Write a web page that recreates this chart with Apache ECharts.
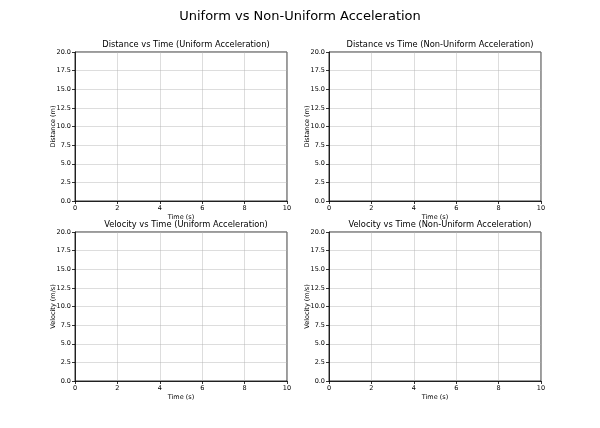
<!DOCTYPE html>
<html>
<head>
<meta charset="utf-8">
<script src="https://cdn.jsdelivr.net/npm/echarts@6/dist/echarts.min.js"></script>
<style>
  html, body { margin: 0; padding: 0; background: #fff; }
  #chart { width: 600px; height: 428px; }
</style>
</head>
<body>
<div id="chart"></div>
<script>
// the figure is an animation's first frame: axes are set up but nothing drawn yet
const timeValues = [];
const distanceUniform = [];
const distanceNonUniform = [];
const velocityUniform = [];
const velocityNonUniform = [];

const panelTitles = [
  'Distance vs Time (Uniform Acceleration)',
  'Distance vs Time (Non-Uniform Acceleration)',
  'Velocity vs Time (Uniform Acceleration)',
  'Velocity vs Time (Non-Uniform Acceleration)'
];
const yNames = ['Distance (m)', 'Distance (m)', 'Velocity (m/s)', 'Velocity (m/s)'];
const panelData = [distanceUniform, distanceNonUniform, velocityUniform, velocityNonUniform];

const FONT = 'DejaVu Sans';
const grids = [
  { left: 75, top: 52, width: 212, height: 149 },
  { left: 329, top: 52, width: 212, height: 149 },
  { left: 75, top: 232, width: 212, height: 149 },
  { left: 329, top: 232, width: 212, height: 149 }
];

const tickStyle = { show: true, inside: false, length: 3, lineStyle: { color: '#000', width: 0.8 } };
const splitStyle = { show: true, lineStyle: { color: '#b0b0b0', width: 0.8, opacity: 0.55 } };
const labelStyle = { fontFamily: FONT, fontSize: 6.5, color: '#000', margin: 4 };

const option = {
  animation: false,
  title: [{
    text: 'Uniform vs Non-Uniform Acceleration',
    left: 'center', top: 5,
    textStyle: { fontFamily: FONT, fontSize: 13, fontWeight: 'normal', color: '#000' }
  }].concat(grids.map((g, i) => ({
    text: panelTitles[i],
    left: g.left + g.width / 2, textAlign: 'center', top: g.top - 16,
    textStyle: { fontFamily: FONT, fontSize: 8.3, fontWeight: 'normal', color: '#000' }
  }))),
  grid: grids.map(g => Object.assign({ show: true, borderColor: '#000', borderWidth: 0.8, backgroundColor: '#fff' }, g)),
  xAxis: grids.map((g, i) => ({
    type: 'value', gridIndex: i, min: 0, max: 10, interval: 2,
    name: 'Time (s)', nameLocation: 'middle', nameGap: 13, nameMoveOverlap: false,
    nameTextStyle: { fontFamily: FONT, fontSize: 6.5, color: '#000' },
    axisLine: { show: true, lineStyle: { color: '#000', width: 0.8 } },
    axisTick: tickStyle, axisLabel: labelStyle, splitLine: splitStyle
  })),
  yAxis: grids.map((g, i) => ({
    type: 'value', gridIndex: i, min: 0, max: 20, interval: 2.5,
    name: yNames[i], nameLocation: 'middle', nameGap: 18, nameMoveOverlap: false,
    nameTextStyle: { fontFamily: FONT, fontSize: 6.5, color: '#000' },
    axisLine: { show: true, lineStyle: { color: '#000', width: 0.8 } },
    axisTick: tickStyle,
    axisLabel: Object.assign({ formatter: v => v.toFixed(1) }, labelStyle),
    splitLine: splitStyle
  })),
  series: panelData.map((d, i) => ({
    type: 'line', xAxisIndex: i, yAxisIndex: i, showSymbol: false,
    data: timeValues.map((t, k) => [t, d[k]])
  }))
};

const chart = echarts.init(document.getElementById('chart'));
chart.setOption(option);
</script>
</body>
</html>
